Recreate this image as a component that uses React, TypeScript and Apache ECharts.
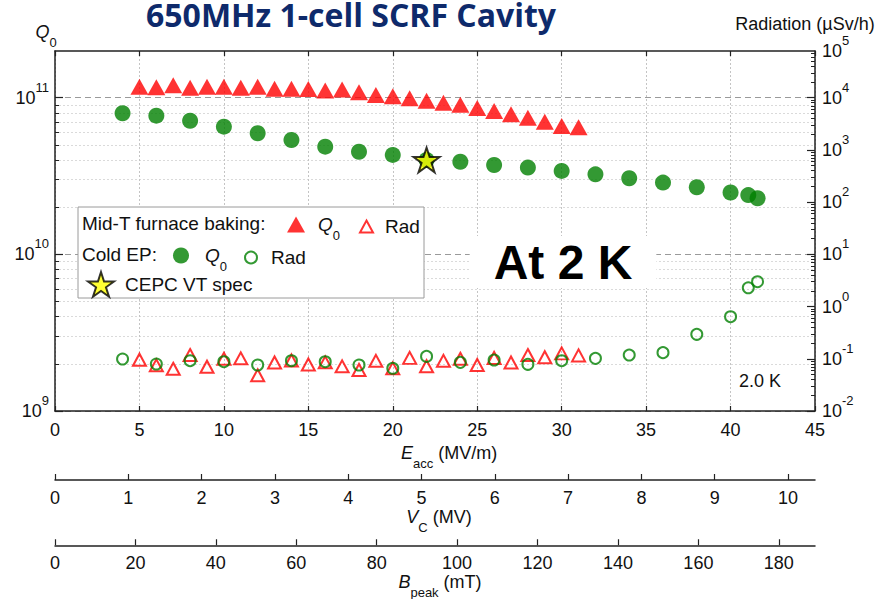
import React, { useEffect, useRef } from 'react';
import * as echarts from 'echarts';

// ---------------- data ----------------
const eaccMidT = [5, 6, 7, 8, 9, 10, 11, 12, 13, 14, 15, 16, 17, 18, 19, 20, 21, 22, 23, 24, 25, 26, 27, 28, 29, 30, 31];
const q0MidT = [1.175e11, 1.167e11, 1.2e11, 1.158e11, 1.175e11, 1.175e11, 1.158e11, 1.175e11, 1.141e11, 1.141e11, 1.136e11, 1.112e11, 1.128e11, 1.083e11, 1.04e11, 1.022e11, 9.91e10, 9.55e10, 9.27e10, 9.02e10, 8.59e10, 8.22e10, 7.83e10, 7.45e10, 7.03e10, 6.6e10, 6.48e10];
const radMidT = [0.096, 0.075, 0.0643, 0.118, 0.0705, 0.0999, 0.102, 0.0483, 0.0849, 0.0927, 0.0777, 0.0855, 0.0717, 0.061, 0.0914, 0.0657, 0.104, 0.0721, 0.0914, 0.1, 0.076, 0.1034, 0.0849, 0.118, 0.107, 0.127, 0.116];

const eaccColdEP = [4, 6, 8, 10, 12, 14, 16, 18, 20, 22, 24, 26, 28, 30, 32, 34, 36, 38, 40, 41.05, 41.6];
const q0ColdEP = [7.95e10, 7.68e10, 7.13e10, 6.53e10, 5.93e10, 5.37e10, 4.87e10, 4.52e10, 4.31e10, 4.0e10, 3.9e10, 3.72e10, 3.58e10, 3.41e10, 3.24e10, 3.06e10, 2.87e10, 2.68e10, 2.48e10, 2.39e10, 2.28e10];
const radColdEP = [0.099, 0.0794, 0.0919, 0.0879, 0.076, 0.0919, 0.0879, 0.076, 0.0657, 0.111, 0.0855, 0.0946, 0.0783, 0.0919, 0.102, 0.118, 0.131, 0.294, 0.639, 2.29, 2.99];

const cepcEacc = [22];
const cepcQ0 = [4.0e10];

const eaccTicks = [0, 5, 10, 15, 20, 25, 30, 35, 40, 45];
const vcTicks = [0, 1, 2, 3, 4, 5, 6, 7, 8, 9, 10];
const bpeakTicks = [0, 20, 40, 60, 80, 100, 120, 140, 160, 180];
const q0Decades = [1e9, 1e10, 1e11];
const radDecades = [1e-2, 1e-1, 1e0, 1e1, 1e2, 1e3, 1e4];

// axis ranges (left spans 2.298 decades, right 3x that, aligned 1e10<->1e1)
const EACC_MAX = 45;
const VC_MAX = 10.368;
const BPEAK_MAX = 189;
const Q0_MIN = 1e9;
const Q0_MAX = Math.pow(10, 11.298);
const RAD_MIN = 1e-2;
const RAD_MAX = Math.pow(10, 4.894);

const minorTicks = (decades: number[], max: number) => {
  const out: number[] = [];
  decades.forEach((d) => {
    for (let k = 2; k <= 9; k++) {
      const v = d * k;
      if (v < max) out.push(v);
    }
  });
  return out;
};

const FONT = '"Liberation Sans", Arial, Helvetica, sans-serif';
const STAR = 'path://M50 0 L61.23 34.55 L97.55 34.55 L68.17 55.9 L79.39 90.45 L50 69.1 L20.61 90.45 L31.83 55.9 L2.45 34.55 L38.77 34.55 Z';
const RED = '#ff0000';
const GREEN = '#008000';

const pairs = (xs: number[], ys: number[]) => xs.map((x, i) => [x, ys[i]]);

const supLabel = (v: number) => `{b|10}{sup|${Math.round(Math.log10(v))}}`;
const supRich = {
  b: { fontSize: 18, lineHeight: 34, fontFamily: FONT, color: '#111' },
  sup: { fontSize: 13, lineHeight: 22, verticalAlign: 'top', fontFamily: FONT, color: '#111' },
};
const subRich = (size: number) => ({
  i: { fontSize: size, fontStyle: 'italic', lineHeight: 34, fontFamily: FONT, color: '#111' },
  t: { fontSize: size, lineHeight: 34, fontFamily: FONT, color: '#111' },
  sub: { fontSize: Math.round(size * 0.7), lineHeight: 30, verticalAlign: 'bottom', fontFamily: FONT, color: '#111' },
});

const legendItem = (name: string, left: number, cy: number, w: number, h: number, fmt: string, pad: number, itemStyle: any) => ({
  data: [name],
  left,
  top: cy - h / 2,
  orient: 'horizontal',
  padding: 0,
  itemGap: 0,
  itemWidth: w,
  itemHeight: h,
  selectedMode: false,
  formatter: fmt,
  itemStyle,
  z: 6,
  textStyle: {
    fontFamily: FONT,
    fontSize: 19,
    color: '#111',
    rich: {
      ...subRich(19),
      i: { fontSize: 19, fontStyle: 'italic', lineHeight: 34, fontFamily: FONT, color: '#111', padding: [0, 0, 0, pad] },
      t: { fontSize: 19, lineHeight: 34, fontFamily: FONT, color: '#111', padding: [0, 0, 0, pad] },
    },
  },
});

export default function App() {
  const ref = useRef<HTMLDivElement>(null);

  useEffect(() => {
    if (!ref.current) return;
    const chart = echarts.init(ref.current, null, { renderer: 'svg' });

    const option: any = {
      animation: false,
      backgroundColor: '#ffffff',
      title: {
        text: '650MHz 1-cell SCRF Cavity',
        left: 146,
        top: 1,
        padding: 0,
        textStyle: { fontFamily: '"Open Sans", "Noto Sans", sans-serif', fontWeight: 'bold', fontSize: 32, lineHeight: 26, color: '#0e2a6b' },
      },
      grid: [
        { left: 55, right: 72, top: 51, bottom: 188 },
        { left: 55, right: 72, top: 479, height: 1 },
        { left: 55, right: 72, top: 545, height: 1 },
      ],
      xAxis: [
        {
          type: 'value', gridIndex: 0, position: 'bottom', min: 0, max: EACC_MAX, interval: 5,
          axisLine: { lineStyle: { color: '#222', width: 1.5 } },
          axisTick: { inside: true, length: 5, lineStyle: { color: '#222', width: 1.2 }, customValues: eaccTicks },
          axisLabel: { customValues: eaccTicks, fontFamily: FONT, fontSize: 18, color: '#111', margin: 10 },
          splitLine: { show: true, lineStyle: { color: '#c4c4c4', type: [2, 2], width: 1 } },
          name: '{i|E}{sub|acc}{t| (MV/m)}',
          nameLocation: 'middle',
          nameGap: 22,
          nameTextStyle: { rich: subRich(18), padding: [0, 0, 0, 28] },
        },
        {
          type: 'value', gridIndex: 0, position: 'top', min: 0, max: EACC_MAX, interval: 5,
          axisLine: { lineStyle: { color: '#222', width: 1.5 } },
          axisTick: { inside: true, length: 5, lineStyle: { color: '#222', width: 1.2 } },
          axisLabel: { show: false },
          splitLine: { show: false },
        },
        {
          type: 'value', gridIndex: 1, position: 'bottom', min: 0, max: VC_MAX,
          axisLine: { lineStyle: { color: '#222', width: 1.5 } },
          axisTick: { inside: true, length: 6, lineStyle: { color: '#222', width: 1.2 }, customValues: vcTicks },
          axisLabel: { customValues: vcTicks, fontFamily: FONT, fontSize: 18, color: '#111', margin: 9 },
          splitLine: { show: false },
          name: '{i|V}{sub|C}{t| (MV)}',
          nameLocation: 'middle',
          nameGap: 18,
          nameTextStyle: { rich: subRich(18), padding: [0, 0, 0, 8] },
        },
        {
          type: 'value', gridIndex: 2, position: 'bottom', min: 0, max: BPEAK_MAX,
          axisLine: { lineStyle: { color: '#222', width: 1.5 } },
          axisTick: { inside: true, length: 6, lineStyle: { color: '#222', width: 1.2 }, customValues: bpeakTicks },
          axisLabel: { customValues: bpeakTicks, fontFamily: FONT, fontSize: 18, color: '#111', margin: 9 },
          splitLine: { show: false },
          name: '{i|B}{sub|peak}{t| (mT)}',
          nameLocation: 'middle',
          nameGap: 20,
          nameTextStyle: { rich: subRich(18), padding: [0, 0, 0, 10] },
        },
      ],
      yAxis: [
        {
          type: 'log', logBase: 10, gridIndex: 0, position: 'left', min: Q0_MIN, max: Q0_MAX,
          axisLine: { show: true, lineStyle: { color: '#222', width: 1.5 } },
          axisTick: { inside: true, length: 8, lineStyle: { color: '#222', width: 1.2 }, customValues: q0Decades },
          axisLabel: { customValues: q0Decades, formatter: supLabel, rich: supRich, margin: 6 },
          splitLine: { show: true, lineStyle: { color: '#9a9a9a', type: [6, 4], width: 1 } },
          name: '{i|Q}{sub|0}',
          nameLocation: 'end',
          nameGap: 2,
          nameTextStyle: { rich: subRich(18), padding: [0, 18, 0, 0] },
        },
        {
          type: 'log', logBase: 10, gridIndex: 0, position: 'left', min: Q0_MIN, max: Q0_MAX,
          axisLine: { show: false },
          axisTick: { inside: true, length: 4, lineStyle: { color: '#222', width: 1 }, customValues: minorTicks(q0Decades, Q0_MAX * 0.99) },
          axisLabel: { show: false },
          splitLine: { show: true, lineStyle: { color: '#dadada', type: [2, 2], width: 1 } },
        },
        {
          type: 'log', logBase: 10, gridIndex: 0, position: 'right', min: RAD_MIN, max: RAD_MAX,
          axisLine: { show: true, lineStyle: { color: '#222', width: 1.5 } },
          axisTick: { inside: true, length: 8, lineStyle: { color: '#222', width: 1.2 }, customValues: radDecades },
          axisLabel: { customValues: [...radDecades, RAD_MAX], formatter: supLabel, rich: supRich, margin: 7 },
          splitLine: { show: false },
          name: 'Radiation (µSv/h)',
          nameLocation: 'end',
          nameGap: 18,
          nameTextStyle: { fontFamily: FONT, fontSize: 18, color: '#111', padding: [0, 20, 0, 0] },
        },
        {
          type: 'log', logBase: 10, gridIndex: 0, position: 'right', min: RAD_MIN, max: RAD_MAX,
          axisLine: { show: false },
          axisTick: { inside: true, length: 4, lineStyle: { color: '#222', width: 1 }, customValues: minorTicks(radDecades, RAD_MAX) },
          axisLabel: { show: false },
          splitLine: { show: false },
        },
        { type: 'value', gridIndex: 1, show: false, min: 0, max: 1 },
        { type: 'value', gridIndex: 2, show: false, min: 0, max: 1 },
      ],
      legend: [
        legendItem('Mid-T furnace baking: Q0', 287, 223, 18, 16, '{i|Q}{sub|0}', 8, { color: RED, borderWidth: 0 }),
        legendItem('Mid-T furnace baking: Rad', 359, 223, 13, 12, '{t|Rad}', 7, { color: 'rgba(0,0,0,0)', borderColor: RED, borderWidth: 2 }),
        legendItem('Cold EP: Q0', 173, 254, 16, 16, '{i|Q}{sub|0}', 11, { color: GREEN, borderWidth: 0 }),
        legendItem('Cold EP: Rad', 244, 254, 12, 12, '{t|Rad}', 9, { color: 'rgba(0,0,0,0)', borderColor: GREEN, borderWidth: 2 }),
        legendItem('CEPC VT spec', 87, 284, 26, 26, '{t|CEPC VT spec}', 6, { color: '#ffff00', borderColor: '#000', borderWidth: 2 }),
      ],
      graphic: [
        {
          type: 'rect', z: 3,
          shape: { x: 78, y: 207, width: 346, height: 91 },
          style: { fill: '#ffffff', stroke: '#9a9a9a', lineWidth: 1 },
        },
        {
          type: 'text', z: 4, x: 82, y: 223,
          style: { text: 'Mid-T furnace baking:', fontFamily: FONT, fontSize: 19, fill: '#111', verticalAlign: 'middle' },
        },
        {
          type: 'text', z: 4, x: 82, y: 254,
          style: { text: 'Cold EP:', fontFamily: FONT, fontSize: 19, fill: '#111', verticalAlign: 'middle' },
        },
        {
          type: 'text', z: 4, x: 563, y: 262,
          style: {
            text: 'At 2 K', fontFamily: FONT, fontSize: 48, fontWeight: 'bold', fill: '#000',
            align: 'center', verticalAlign: 'middle', backgroundColor: '#ffffff', padding: [2, 24, 2, 24],
          },
        },
        {
          type: 'text', z: 4, x: 739, y: 381,
          style: { text: '2.0 K', fontFamily: FONT, fontSize: 18, fill: '#111', verticalAlign: 'middle' },
        },
      ],
      series: [
        {
          name: 'Mid-T furnace baking: Q0', type: 'scatter', xAxisIndex: 0, yAxisIndex: 0,
          symbol: 'triangle', symbolSize: [18, 16],
          itemStyle: { color: RED },
          data: pairs(eaccMidT, q0MidT), z: 2,
        },
        {
          name: 'Mid-T furnace baking: Rad', type: 'scatter', xAxisIndex: 0, yAxisIndex: 2,
          symbol: 'triangle', symbolSize: [13, 12],
          itemStyle: { color: 'rgba(0,0,0,0)', borderColor: RED, borderWidth: 2 },
          data: pairs(eaccMidT, radMidT), z: 2,
        },
        {
          name: 'Cold EP: Q0', type: 'scatter', xAxisIndex: 0, yAxisIndex: 0,
          symbol: 'circle', symbolSize: 16,
          itemStyle: { color: GREEN },
          data: pairs(eaccColdEP, q0ColdEP), z: 3,
        },
        {
          name: 'Cold EP: Rad', type: 'scatter', xAxisIndex: 0, yAxisIndex: 2,
          symbol: 'circle', symbolSize: 11,
          itemStyle: { color: 'rgba(0,0,0,0)', borderColor: GREEN, borderWidth: 2 },
          data: pairs(eaccColdEP, radColdEP), z: 3,
        },
        {
          name: 'CEPC VT spec', type: 'scatter', xAxisIndex: 0, yAxisIndex: 0,
          symbol: STAR, symbolKeepAspect: true, symbolSize: 26,
          itemStyle: { color: '#ffff00', borderColor: '#000', borderWidth: 2 },
          data: pairs(cepcEacc, cepcQ0), z: 4,
        },
      ],
    };

    chart.setOption(option);
    return () => chart.dispose();
  }, []);

  return <div ref={ref} style={{ position: 'fixed', left: 0, top: 0, width: 887, height: 599 }} />;
}
